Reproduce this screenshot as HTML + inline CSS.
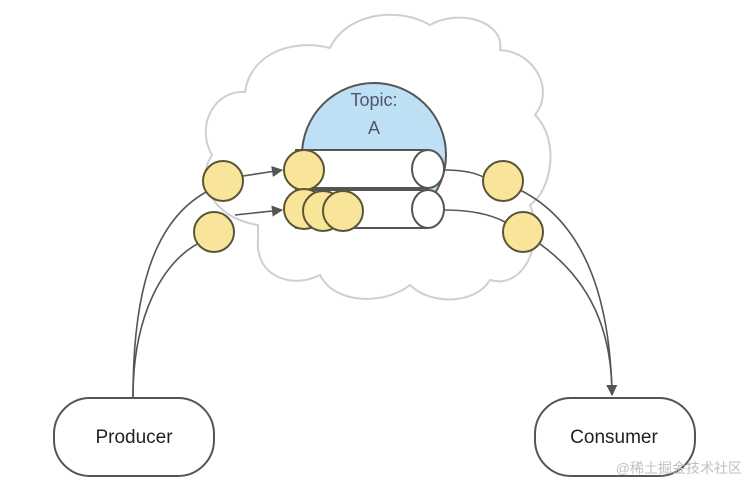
<!DOCTYPE html>
<html><head><meta charset="utf-8"><style>
html,body{margin:0;padding:0;background:#fff;}
svg{display:block;}
</style></head><body>
<svg width="748" height="481" viewBox="0 0 748 481" xmlns="http://www.w3.org/2000/svg" font-family="Liberation Sans, sans-serif">
<defs><marker id="ah" viewBox="0 0 10 10" refX="9" refY="5" markerWidth="7" markerHeight="7" orient="auto"><path d="M0,0 L10,5 L0,10 z" fill="#555"/></marker></defs>
<path d="M258,225 C212,218 195,180 212,155 C195,125 215,90 245,92 C250,55 290,38 330,48 C345,15 395,5 430,25 C460,8 505,22 500,50 C535,52 555,90 535,115 C560,140 552,190 530,205 C545,240 525,290 490,280 C475,305 430,305 410,285 C385,305 335,305 320,275 C290,290 255,275 258,240 Z" fill="#fff" stroke="#cfcfcf" stroke-width="2"/>
<g fill="none" stroke="#555" stroke-width="1.6">
<path d="M133,397 C133,300 150,220 210,190"/>
<path d="M133,397 C133,320 160,260 205,240"/>
<path d="M243,176 L282,170" marker-end="url(#ah)"/>
<path d="M235,215 L282,210" marker-end="url(#ah)"/>
<path d="M444,170 C460,170 475,172 485,178"/>
<path d="M444,210 C470,210 490,214 505,222"/>
<path d="M520,190 C580,220 610,290 612,395" marker-end="url(#ah)"/>
<path d="M540,244 C590,280 612,330 612,395"/>
</g>
<circle cx="374" cy="155" r="72" fill="#bde0f5" stroke="#555" stroke-width="2"/>
<text x="374" y="106" font-size="18" fill="#556" text-anchor="middle">Topic:</text>
<text x="374" y="134" font-size="18" fill="#556" text-anchor="middle">A</text>
<g stroke="#555" stroke-width="2" fill="#fff">
<rect x="296" y="190" width="132" height="38"/>
<ellipse cx="428" cy="209" rx="16" ry="19"/>
<rect x="296" y="150" width="132" height="38"/>
<ellipse cx="428" cy="169" rx="16" ry="19"/>
</g>
<g fill="#f9e59a" stroke="#5a5535" stroke-width="2">
<circle cx="304" cy="170" r="20"/>
<circle cx="304" cy="209" r="20"/>
<circle cx="323" cy="211" r="20"/>
<circle cx="343" cy="211" r="20"/>
<circle cx="223" cy="181" r="20"/>
<circle cx="214" cy="232" r="20"/>
<circle cx="503" cy="181" r="20"/>
<circle cx="523" cy="232" r="20"/>
</g>
<g fill="#fff" stroke="#555" stroke-width="2">
<rect x="54" y="398" width="160" height="78" rx="36"/>
<rect x="535" y="398" width="160" height="78" rx="36"/>
</g>
<text x="134" y="443" font-size="19" fill="#222" text-anchor="middle">Producer</text>
<text x="614" y="443" font-size="19" fill="#222" text-anchor="middle">Consumer</text>
<text x="742" y="473" font-size="14" fill="#c0c0c0" text-anchor="end" font-family="Liberation Sans, Noto Sans CJK SC, sans-serif">@稀土掘金技术社区</text>
</svg>
</body></html>
